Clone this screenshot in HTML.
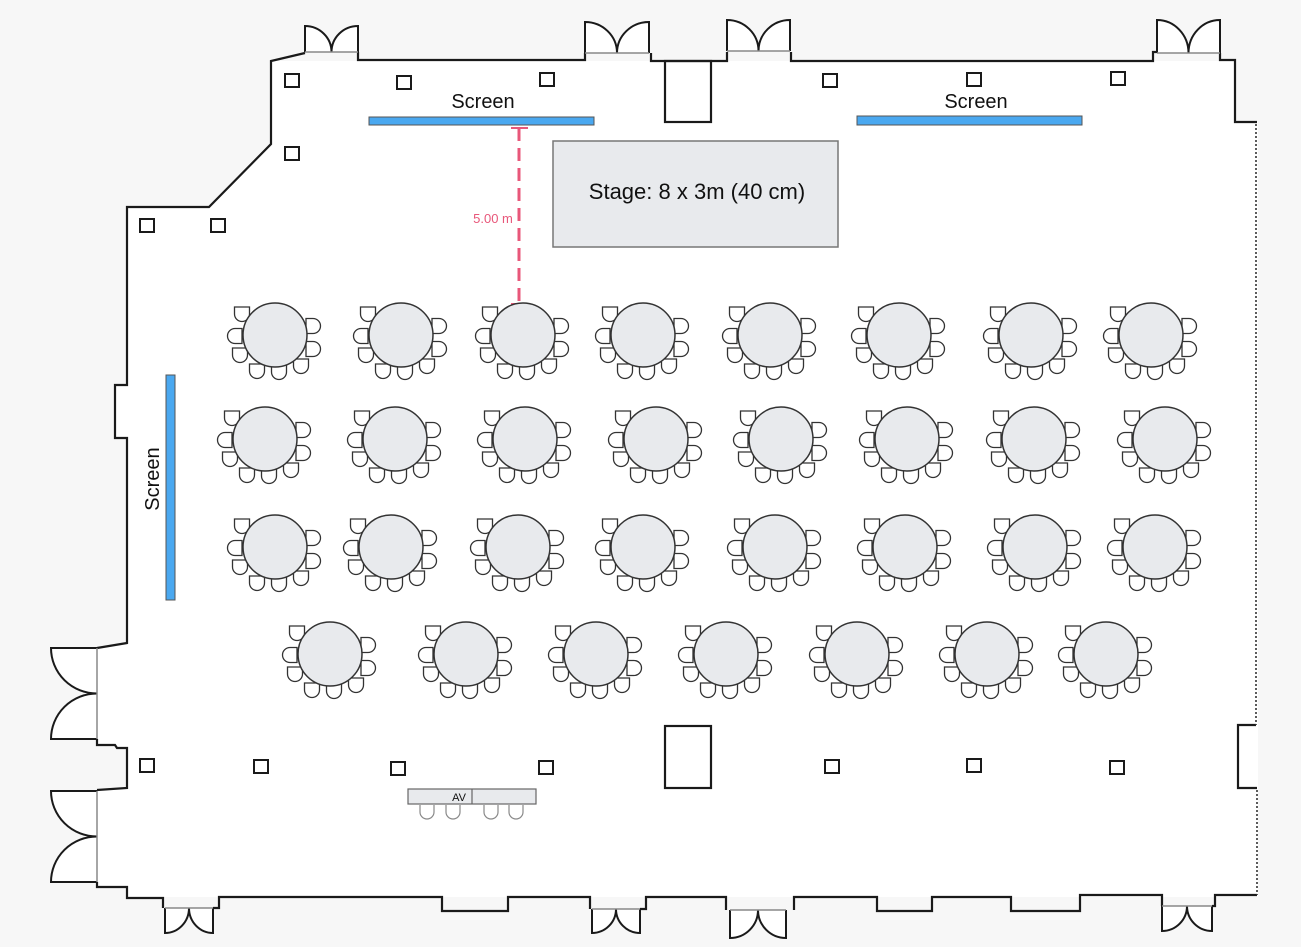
<!DOCTYPE html>
<html><head><meta charset="utf-8">
<style>
html,body{margin:0;padding:0;background:#f7f7f7;}
svg{display:block;}
text{font-family:"Liberation Sans","DejaVu Sans",sans-serif;}
</style></head>
<body>
<svg width="1301" height="947" viewBox="0 0 1301 947" xmlns="http://www.w3.org/2000/svg" xmlns:xlink="http://www.w3.org/1999/xlink">
<defs>
<path id="c" d="M-7.5,-7 H7.5 V0 A7.5,7.5 0 0 1 -7.5,0 Z" fill="#fff" stroke="#333" stroke-width="1.3"/>
<g id="t">
<use xlink:href="#c" href="#c" transform="translate(-33,-21) rotate(0)"/>
<use xlink:href="#c" href="#c" transform="translate(-40,1) rotate(90)"/>
<use xlink:href="#c" href="#c" transform="translate(-35,20) rotate(0)"/>
<use xlink:href="#c" href="#c" transform="translate(-18,36) rotate(0)"/>
<use xlink:href="#c" href="#c" transform="translate(4,37) rotate(0)"/>
<use xlink:href="#c" href="#c" transform="translate(26,31) rotate(0)"/>
<use xlink:href="#c" href="#c" transform="translate(38,-9) rotate(-90)"/>
<use xlink:href="#c" href="#c" transform="translate(38,14) rotate(-90)"/>
<circle cx="0" cy="0" r="32" fill="#e8eaed" stroke="#333" stroke-width="1.5"/>
</g>
</defs>
<rect width="1301" height="947" fill="#f7f7f7"/>
<polygon fill="#fff" stroke="none" points="271,61 1235,61 1235,122 1258,122 1258,897 127,897 127,887 97,887 97,790 127,788 127,748 97,745 97,648 127,643 127,438 115,438 115,385 127,385 127,207 209,207 271,144"/>
<g fill="none" stroke="#1a1a1a" stroke-width="2.2">
<polyline points="305,53 271,61 271,144 209,207 127,207 127,385 115,385 115,438 127,438 127,643 115,645 97,648"/>
<polyline points="97,739 97,745 115,745 117,748 127,748 127,788 97,790"/>
<polyline points="97,882 97,887 127,887 127,898 163,898 163,908"/>
<polyline points="213,908 219,908 219,897 442,897 442,911 508,911 508,897 590,897 590,909"/>
<polyline points="640,909 646,909 646,897 726,897 726,910"/>
<polyline points="794,910 794,897 877,897 877,911 932,911 932,897 1011,897 1011,911 1080,911 1080,895 1162,895 1162,906"/>
<polyline points="1212,906 1215,906 1215,895 1257,895"/>
<polyline points="1257,788 1238,788 1238,725 1256,725"/>
<polyline points="1257,122 1235,122 1235,60 1220,60 1220,53"/>
<polyline points="1157,52 1153,52 1153,61 791,61 791,52"/>
<polyline points="727,52 727,61 665,61 651,61 651,53"/>
<polyline points="585,53 585,60 358,60 358,52"/>
<rect x="665" y="61" width="46" height="61"/>
<rect x="665" y="726" width="46" height="62"/>
</g>
<g stroke="#333" stroke-width="1.6" stroke-dasharray="2,2" fill="none">
<line x1="1256" y1="124" x2="1256" y2="725"/>
<line x1="1257" y1="790" x2="1257" y2="895"/>
</g>
<g fill="#fff" stroke="#1a1a1a" stroke-width="2">
<path d="M305,52 V26 A26.5,26 0 0 1 331.5,52 A26.5,26 0 0 1 358,26 V52"/>
<path d="M585,53 V22 A32,31 0 0 1 617,53 A32,31 0 0 1 649,22 V53"/>
<path d="M727,51 V20 A31.5,31 0 0 1 758.5,51 A31.5,31 0 0 1 790,20 V51"/>
<path d="M1157,53 V20 A31.5,33 0 0 1 1188.5,53 A31.5,33 0 0 1 1220,20 V53"/>
<path d="M165,908 V933 A24,25 0 0 0 189,908 A24,25 0 0 0 213,933 V908"/>
<path d="M592,909 V933 A24,24 0 0 0 616,909 A24,24 0 0 0 640,933 V909"/>
<path d="M730,910 V938 A28,28 0 0 0 758,910 A28,28 0 0 0 786,938 V910"/>
<path d="M1162,906 V931 A25,25 0 0 0 1187,906 A25,25 0 0 0 1212,931 V906"/>
<path d="M97,648 H51 A46,45.5 0 0 0 97,693.5 A46,45.5 0 0 0 51,739 H97"/>
<path d="M97,791 H51 A46,45.5 0 0 0 97,836.5 A46,45.5 0 0 0 51,882 H97"/>
</g>
<g stroke="#888" stroke-width="1.5">
<line x1="305" y1="52" x2="358" y2="52"/><line x1="585" y1="53" x2="649" y2="53"/>
<line x1="727" y1="51" x2="790" y2="51"/><line x1="1157" y1="53" x2="1220" y2="53"/>
<line x1="165" y1="908" x2="213" y2="908"/><line x1="592" y1="909" x2="640" y2="909"/>
<line x1="730" y1="910" x2="786" y2="910"/><line x1="1162" y1="906" x2="1212" y2="906"/>
<line x1="97" y1="648" x2="97" y2="739"/><line x1="97" y1="791" x2="97" y2="882"/>
</g>
<g fill="none" stroke="#1a1a1a" stroke-width="2">
<rect x="285" y="74" width="14" height="13"/><rect x="397" y="76" width="14" height="13"/>
<rect x="540" y="73" width="14" height="13"/><rect x="823" y="74" width="14" height="13"/>
<rect x="967" y="73" width="14" height="13"/><rect x="1111" y="72" width="14" height="13"/>
<rect x="285" y="147" width="14" height="13"/><rect x="140" y="219" width="14" height="13"/>
<rect x="211" y="219" width="14" height="13"/><rect x="140" y="759" width="14" height="13"/>
<rect x="254" y="760" width="14" height="13"/><rect x="391" y="762" width="14" height="13"/>
<rect x="539" y="761" width="14" height="13"/><rect x="825" y="760" width="14" height="13"/>
<rect x="967" y="759" width="14" height="13"/><rect x="1110" y="761" width="14" height="13"/>
</g>
<g fill="#4aa8f0" stroke="#555" stroke-width="1">
<rect x="369" y="117" width="225" height="8"/>
<rect x="857" y="116" width="225" height="9"/>
<rect x="166" y="375" width="9" height="225"/>
</g>
<g font-size="20" fill="#111">
<text x="483" y="108" text-anchor="middle">Screen</text>
<text x="976" y="108" text-anchor="middle">Screen</text>
<text x="0" y="0" text-anchor="middle" transform="translate(159,479) rotate(-90)">Screen</text>
</g>
<rect x="553" y="141" width="285" height="106" fill="#e8eaed" stroke="#777" stroke-width="1.5"/>
<text x="697" y="199" font-size="22" fill="#111" text-anchor="middle">Stage: 8 x 3m (40 cm)</text>
<g stroke="#e8577a" stroke-width="3">
<line x1="519" y1="128" x2="519" y2="303" stroke-dasharray="13,7"/>
<line x1="511" y1="128" x2="528" y2="128" stroke-width="2"/>
<line x1="511" y1="304" x2="528" y2="304" stroke-width="2"/>
</g>
<text x="493" y="223" font-size="13" fill="#e8577a" text-anchor="middle">5.00 m</text>
<g>
<use href="#t" xlink:href="#t" x="275" y="335"/><use href="#t" xlink:href="#t" x="401" y="335"/>
<use href="#t" xlink:href="#t" x="523" y="335"/><use href="#t" xlink:href="#t" x="643" y="335"/>
<use href="#t" xlink:href="#t" x="770" y="335"/><use href="#t" xlink:href="#t" x="899" y="335"/>
<use href="#t" xlink:href="#t" x="1031" y="335"/><use href="#t" xlink:href="#t" x="1151" y="335"/>
<use href="#t" xlink:href="#t" x="265" y="439"/><use href="#t" xlink:href="#t" x="395" y="439"/>
<use href="#t" xlink:href="#t" x="525" y="439"/><use href="#t" xlink:href="#t" x="656" y="439"/>
<use href="#t" xlink:href="#t" x="781" y="439"/><use href="#t" xlink:href="#t" x="907" y="439"/>
<use href="#t" xlink:href="#t" x="1034" y="439"/><use href="#t" xlink:href="#t" x="1165" y="439"/>
<use href="#t" xlink:href="#t" x="275" y="547"/><use href="#t" xlink:href="#t" x="391" y="547"/>
<use href="#t" xlink:href="#t" x="518" y="547"/><use href="#t" xlink:href="#t" x="643" y="547"/>
<use href="#t" xlink:href="#t" x="775" y="547"/><use href="#t" xlink:href="#t" x="905" y="547"/>
<use href="#t" xlink:href="#t" x="1035" y="547"/><use href="#t" xlink:href="#t" x="1155" y="547"/>
<use href="#t" xlink:href="#t" x="330" y="654"/><use href="#t" xlink:href="#t" x="466" y="654"/>
<use href="#t" xlink:href="#t" x="596" y="654"/><use href="#t" xlink:href="#t" x="726" y="654"/>
<use href="#t" xlink:href="#t" x="857" y="654"/><use href="#t" xlink:href="#t" x="987" y="654"/>
<use href="#t" xlink:href="#t" x="1106" y="654"/>
</g>
<g fill="#fff" stroke="#888" stroke-width="1.2">
<path d="M420,805 V812 A7,7 0 0 0 434,812 V805"/>
<path d="M446,805 V812 A7,7 0 0 0 460,812 V805"/>
<path d="M484,805 V812 A7,7 0 0 0 498,812 V805"/>
<path d="M509,805 V812 A7,7 0 0 0 523,812 V805"/>
</g>
<rect x="408" y="789" width="128" height="15" fill="#e8eaed" stroke="#666" stroke-width="1.2"/>
<line x1="472" y1="789" x2="472" y2="804" stroke="#666" stroke-width="1.2"/>
<text x="459" y="801" font-size="11" fill="#111" text-anchor="middle">AV</text>
</svg>
</body></html>
